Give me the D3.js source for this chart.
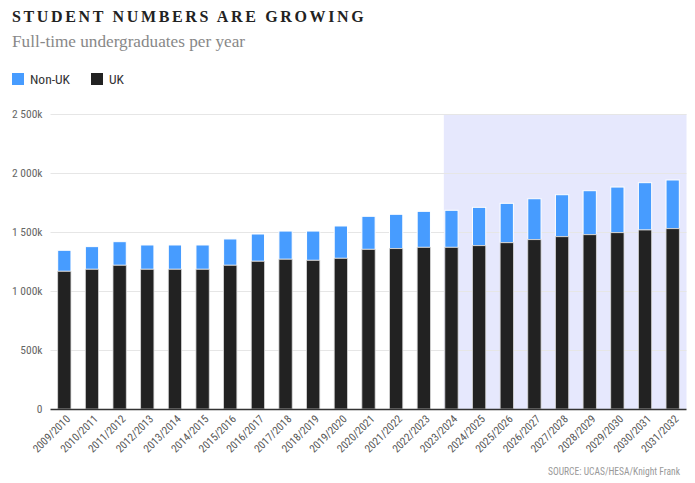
<!DOCTYPE html>
<html><head><meta charset="utf-8">
<script src="https://cdn.jsdelivr.net/npm/d3@7"></script>
<style>
body{margin:0;background:#fff;}
svg{display:block;}
</style></head>
<body>
<svg id="c" width="695" height="483"></svg>
<script>
const categories = ["2009/2010","2010/2011","2011/2012","2012/2013","2013/2014","2014/2015","2015/2016","2016/2017","2017/2018","2018/2019","2019/2020","2020/2021","2021/2022","2022/2023","2023/2024","2024/2025","2025/2026","2026/2027","2027/2028","2028/2029","2029/2030","2030/2031","2031/2032"];
const ukValues = [1167,1184,1218,1184,1184,1184,1218,1252,1269,1260,1277,1353,1359,1370,1370,1384,1409,1435,1460,1477,1494,1517,1528];
const nonUkValues = [178,192,200,206,206,206,223,231,239,248,274,280,291,305,314,325,334,347,356,373,387,401,413];
const yTicks = [0,500,1000,1500,2000,2500];
const yTickLabels = ["0","500k","1 000k","1 500k","2 000k","2 500k"];
const forecastStart = "2023/2024";

const svg = d3.select("#c");
const m = {l:50.5, r:686.5, t:114, b:409};
const x = d3.scaleBand().domain(categories).range([m.l, m.r]).paddingInner(0.52).paddingOuter(0.26);
const y = d3.scaleLinear().domain([0,2500]).range([m.b, m.t]);
const sans = "'Liberation Sans Narrow','Roboto Condensed',Roboto,sans-serif";

// forecast band
svg.append("rect").attr("x", x(forecastStart)-1).attr("y", m.t)
  .attr("width", m.r - (x(forecastStart)-1)).attr("height", m.b-m.t).attr("fill","#e6e8fd");

// grid
svg.append("g").selectAll("line").data(yTicks.slice(1)).join("line")
  .attr("x1", m.l).attr("x2", m.r).attr("y1", d=>y(d)+0.5).attr("y2", d=>y(d)+0.5)
  .attr("stroke","#e6e6e6").attr("stroke-width",1);

// y labels
const ya = svg.append("g").attr("transform",`translate(${m.l-8},0)`)
  .call(d3.axisLeft(y).tickValues(yTicks).tickFormat((d,i)=>yTickLabels[i]).tickSize(0).tickPadding(0));
ya.select(".domain").remove();
ya.selectAll("text").attr("font-family",sans)
  .attr("font-size","11.5px").attr("fill","#666").attr("dy","0.32em");

// bars
const bw = x.bandwidth();
const g = svg.append("g");
categories.forEach((c,i)=>{
  const uk = ukValues[i], tot = ukValues[i]+nonUkValues[i];
  g.append("rect").attr("x", x(c)).attr("width", bw)
    .attr("y", y(tot)).attr("height", y(uk)-y(tot))
    .attr("fill","#479cff").attr("stroke","#ffffff").attr("stroke-width",1);
  g.append("rect").attr("x", x(c)).attr("width", bw)
    .attr("y", y(uk)).attr("height", y(0)-y(uk))
    .attr("fill","#222222").attr("stroke","#d8d8d8").attr("stroke-width",0.8);
});

// x axis
svg.append("line").attr("x1",m.l).attr("x2",m.r).attr("y1",m.b+0.5).attr("y2",m.b+0.5)
  .attr("stroke","#333").attr("stroke-width",1.5);
const xa = svg.append("g").attr("transform",`translate(0,${m.b})`)
  .call(d3.axisBottom(x).tickSize(0).tickPadding(0));
xa.select(".domain").remove();
xa.selectAll("text").attr("font-family",sans)
  .attr("font-size","11px").attr("fill","#555").attr("text-anchor","end")
  .attr("transform","translate(4,8) rotate(-45)").attr("dy","0.35em");

// title
svg.append("text").attr("x",12).attr("y",22).text("STUDENT NUMBERS ARE GROWING")
  .attr("font-family","'Liberation Serif','DejaVu Serif',serif").attr("font-weight","bold")
  .attr("font-size","16px").attr("letter-spacing","2.65px").attr("fill","#222");
svg.append("text").attr("x",12).attr("y",47).text("Full-time undergraduates per year")
  .attr("font-family","'Liberation Serif','DejaVu Serif',serif")
  .attr("font-size","17px").attr("fill","#888").attr("textLength",233).attr("lengthAdjust","spacingAndGlyphs");

// legend
const leg = [{n:"Non-UK",c:"#479cff",x:12},{n:"UK",c:"#222",x:91}];
leg.forEach(l=>{
  svg.append("rect").attr("x",l.x).attr("y",73).attr("width",12).attr("height",12).attr("fill",l.c);
  svg.append("text").attr("x",l.x+18).attr("y",84).text(l.n)
    .attr("font-family",sans)
    .attr("font-size","13.5px").attr("fill","#333");
});

// source
svg.append("text").attr("x",680).attr("y",475).attr("text-anchor","end").text("SOURCE: UCAS/HESA/Knight Frank")
  .attr("font-family",sans)
  .attr("font-size","10.5px").attr("fill","#999").attr("textLength",132).attr("lengthAdjust","spacingAndGlyphs");
</script>
</body></html>
